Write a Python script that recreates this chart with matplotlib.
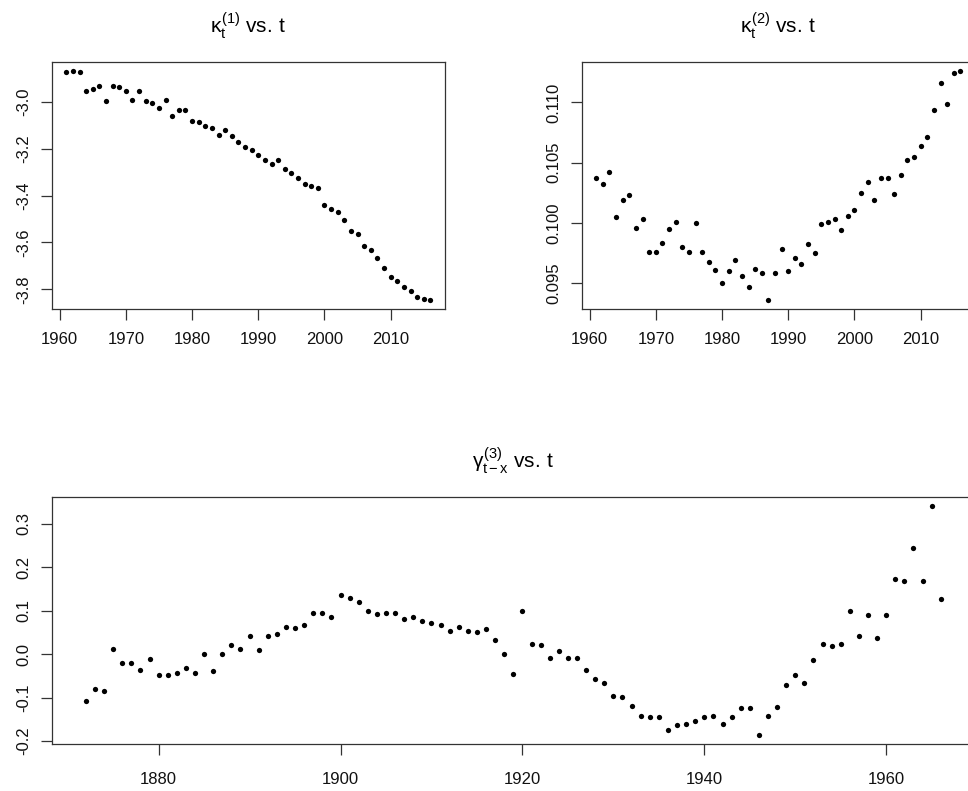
import numpy as np
import matplotlib
matplotlib.use("Agg")
import matplotlib.pyplot as plt
from matplotlib.ticker import FormatStrFormatter

# period effects kappa_t^(1), kappa_t^(2) by calendar year
years = np.arange(1961, 2017)
kappa1 = [-2.874, -2.868, -2.874, -2.955, -2.943, -2.932, -2.997, -2.932, -2.938, -2.955,
          -2.993, -2.955, -2.997, -3.003, -3.024, -2.993, -3.058, -3.036, -3.036, -3.080,
          -3.085, -3.101, -3.112, -3.139, -3.118, -3.145, -3.172, -3.193, -3.205, -3.226,
          -3.249, -3.264, -3.249, -3.286, -3.303, -3.324, -3.351, -3.357, -3.366, -3.438,
          -3.455, -3.472, -3.504, -3.551, -3.563, -3.616, -3.634, -3.666, -3.710, -3.747,
          -3.764, -3.791, -3.807, -3.834, -3.840, -3.845]
kappa2 = [0.1037, 0.1032, 0.1042, 0.1005, 0.1019, 0.1023, 0.0996, 0.1003, 0.0976, 0.0976,
          0.0983, 0.0995, 0.1001, 0.0980, 0.0976, 0.1000, 0.0976, 0.0967, 0.0961, 0.0950,
          0.0960, 0.0969, 0.0956, 0.0947, 0.0962, 0.0958, 0.0936, 0.0958, 0.0978, 0.0960,
          0.0971, 0.0966, 0.0982, 0.0975, 0.0999, 0.1001, 0.1003, 0.0994, 0.1006, 0.1011,
          0.1025, 0.1034, 0.1019, 0.1037, 0.1037, 0.1024, 0.1040, 0.1052, 0.1055, 0.1064,
          0.1071, 0.1094, 0.1116, 0.1099, 0.1124, 0.1126]

# cohort effect gamma_{t-x}^(3) by year of birth
cohorts = np.arange(1872, 1967)
gamma3 = [-0.107, -0.081, -0.084, 0.012, -0.020, -0.020, -0.037, -0.011, -0.049, -0.049,
          -0.043, -0.031, -0.043, 0.001, -0.040, 0.001, 0.021, 0.012, 0.042, 0.009,
          0.042, 0.047, 0.062, 0.060, 0.068, 0.095, 0.095, 0.086, 0.135, 0.129,
          0.121, 0.100, 0.092, 0.095, 0.095, 0.080, 0.086, 0.077, 0.071, 0.068,
          0.054, 0.063, 0.054, 0.050, 0.057, 0.033, 0.001, -0.046, 0.100, 0.024,
          0.021, -0.008, 0.007, -0.008, -0.008, -0.037, -0.057, -0.067, -0.096, -0.099,
          -0.119, -0.142, -0.145, -0.145, -0.174, -0.163, -0.160, -0.154, -0.145, -0.142,
          -0.160, -0.145, -0.125, -0.125, -0.187, -0.142, -0.122, -0.070, -0.049, -0.067,
          -0.014, 0.024, 0.018, 0.024, 0.100, 0.042, 0.089, 0.036, 0.089, 0.174,
          0.168, 0.244, 0.168, 0.340, 0.127]

plt.rcParams["font.family"] = "Liberation Sans"
plt.rcParams["mathtext.fontset"] = "custom"
plt.rcParams["mathtext.rm"] = "Liberation Sans"
plt.rcParams["mathtext.it"] = "Liberation Sans"
plt.rcParams["mathtext.bf"] = "Liberation Sans:bold"
plt.rcParams["axes.unicode_minus"] = False

fig = plt.figure(figsize=(9.68, 7.91), dpi=100)
ax1 = fig.add_axes([0.0534, 0.6094, 0.4063, 0.3123])
ax2 = fig.add_axes([0.6009, 0.6094, 0.4063, 0.3123])
ax3 = fig.add_axes([0.0534, 0.0588, 0.9538, 0.3125])


def base_style(ax, x, y, title, xpad):
    ax.plot(x, y, "o", color="black", markersize=3.8, markeredgewidth=0)
    ax.margins(x=0.04, y=0.04)
    for s in ax.spines.values():
        s.set_color("#333333")
        s.set_linewidth(0.9)
    ax.tick_params(axis="both", direction="out", length=7.7, width=0.9,
                   color="#333333", labelsize=12, labelcolor="#111111")
    ax.tick_params(axis="x", pad=xpad)
    ax.tick_params(axis="y", pad=7, labelrotation=90)
    ax.set_title(title, fontsize=15, pad=21)


base_style(ax1, years, kappa1, r"$\kappa_t^{(1)}$ vs. t", 9)
ax1.set_xticks([1960, 1970, 1980, 1990, 2000, 2010])
ax1.set_yticks([-3.8, -3.6, -3.4, -3.2, -3.0])
ax1.yaxis.set_major_formatter(FormatStrFormatter("%.1f"))

base_style(ax2, years, kappa2, r"$\kappa_t^{(2)}$ vs. t", 9)
ax2.set_xticks([1960, 1970, 1980, 1990, 2000, 2010])
ax2.set_yticks([0.095, 0.100, 0.105, 0.110])
ax2.yaxis.set_major_formatter(FormatStrFormatter("%.3f"))

base_style(ax3, cohorts, gamma3, r"$\gamma_{t-x}^{(3)}$ vs. t", 12)
ax3.set_xticks([1880, 1900, 1920, 1940, 1960])
ax3.set_yticks([-0.2, -0.1, 0.0, 0.1, 0.2, 0.3])
ax3.yaxis.set_major_formatter(FormatStrFormatter("%.1f"))

for ax in (ax1, ax2, ax3):
    for lab in ax.get_yticklabels():
        lab.set_verticalalignment("center")

fig.savefig("out.png", dpi=100)
